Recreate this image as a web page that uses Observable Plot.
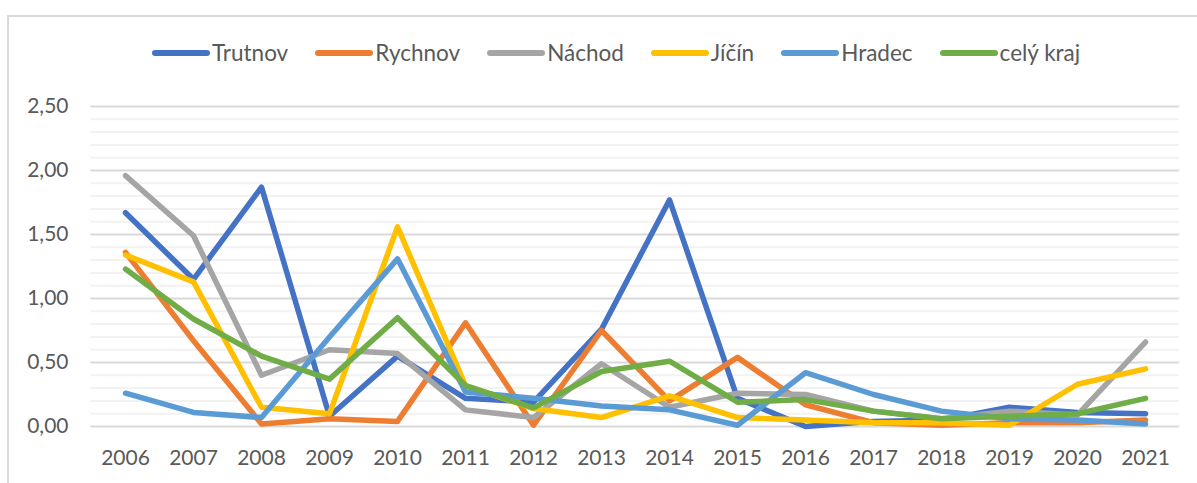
<!DOCTYPE html>
<html>
<head>
<meta charset="utf-8">
<script src="https://cdn.jsdelivr.net/npm/d3@7"></script>
<script src="https://cdn.jsdelivr.net/npm/@observablehq/plot@0.6"></script>
<style>
  html, body { margin: 0; padding: 0; background: #fff; }
  body { width: 1197px; height: 483px; overflow: hidden; position: relative; font-family: Lato, "Open Sans", sans-serif; }
  #frame { position: absolute; left: 7px; top: 15px; width: 1400px; height: 700px; border: 2px solid #d9d9d9; box-sizing: border-box; pointer-events: none; }
  #legend { position: relative; height: 80px; display: flex; align-items: center; padding-left: 152px; box-sizing: border-box; padding-top: 26px; }
  .item { display: flex; align-items: center; margin-right: 27px; color: #595959; font-size: 22.5px; line-height: 1; }
  .sw { display: inline-block; width: 58px; height: 6px; border-radius: 3px; margin-right: 2px; }
  #chart { position: relative; }
</style>
</head>
<body>
<div id="frame"></div>
<div id="legend"></div>
<div id="chart"></div>
<script>
const years = ["2006","2007","2008","2009","2010","2011","2012","2013","2014","2015","2016","2017","2018","2019","2020","2021"];
const seriesNames = ["Trutnov","Rychnov","Náchod","Jíčín","Hradec","celý kraj"];
const seriesColors = ["#4472C4","#ED7D31","#A5A5A5","#FFC000","#5B9BD5","#70AD47"];

const trutnov  = [1.67, 1.15, 1.87, 0.08, 0.55, 0.22, 0.19, 0.76, 1.77, 0.22, 0.00, 0.04, 0.05, 0.15, 0.11, 0.10];
const rychnov  = [1.36, 0.67, 0.02, 0.06, 0.04, 0.81, 0.01, 0.75, 0.20, 0.54, 0.17, 0.03, 0.01, 0.03, 0.03, 0.05];
const nachod   = [1.96, 1.49, 0.40, 0.60, 0.57, 0.13, 0.07, 0.49, 0.15, 0.26, 0.25, 0.12, 0.06, 0.12, 0.09, 0.66];
const jicin    = [1.34, 1.13, 0.15, 0.10, 1.56, 0.32, 0.14, 0.07, 0.24, 0.07, 0.05, 0.03, 0.03, 0.01, 0.33, 0.45];
const hradec   = [0.26, 0.11, 0.07, 0.70, 1.31, 0.27, 0.22, 0.16, 0.13, 0.01, 0.42, 0.25, 0.12, 0.06, 0.05, 0.02];
const celyKraj = [1.23, 0.84, 0.55, 0.37, 0.85, 0.32, 0.145, 0.43, 0.51, 0.19, 0.21, 0.12, 0.06, 0.08, 0.10, 0.22];

const yMajorTicks = [0, 0.5, 1.0, 1.5, 2.0, 2.5];
const yMinorTicks = [0.1, 0.2, 0.3, 0.4, 0.6, 0.7, 0.8, 0.9, 1.1, 1.2, 1.3, 1.4, 1.6, 1.7, 1.8, 1.9, 2.1, 2.2, 2.3, 2.4];

const seriesValues = [trutnov, rychnov, nachod, jicin, hradec, celyKraj];
const data = [];
seriesNames.forEach((name, i) => {
  years.forEach((y, j) => data.push({series: name, year: y, value: seriesValues[i][j]}));
});

// legend
const legend = document.getElementById("legend");
seriesNames.forEach((name, i) => {
  const it = document.createElement("div");
  it.className = "item";
  const sw = document.createElement("span");
  sw.className = "sw";
  sw.style.background = seriesColors[i];
  const tx = document.createElement("span");
  tx.textContent = name;
  it.appendChild(sw); it.appendChild(tx);
  legend.appendChild(it);
});

const fmt = v => v.toFixed(2).replace(".", ",");

const chart = Plot.plot({
  width: 1197,
  height: 403,
  marginLeft: 90.5,
  marginRight: 18,
  marginTop: 26,
  marginBottom: 57,
  style: {fontFamily: "Lato, 'Open Sans', sans-serif", fontSize: "21px", color: "#595959", background: "transparent"},
  x: {type: "point", domain: years, padding: 0.5},
  y: {domain: [0, 2.5]},
  color: {domain: seriesNames, range: seriesColors},
  marks: [
    Plot.ruleY(yMinorTicks, {stroke: "#f2f2f2", strokeWidth: 2}),
    Plot.ruleY(yMajorTicks, {stroke: "#d9d9d9", strokeWidth: 2}),
    Plot.axisY({ticks: yMajorTicks, tickFormat: fmt, tickSize: 0, tickPadding: 22.5, label: null}),
    Plot.axisX({tickSize: 0, tickPadding: 24, label: null}),
    Plot.line(data, {x: "year", y: "value", z: "series", stroke: "series", strokeWidth: 5.5, strokeLinecap: "round", strokeLinejoin: "round"})
  ]
});
document.getElementById("chart").appendChild(chart);
</script>
</body>
</html>
